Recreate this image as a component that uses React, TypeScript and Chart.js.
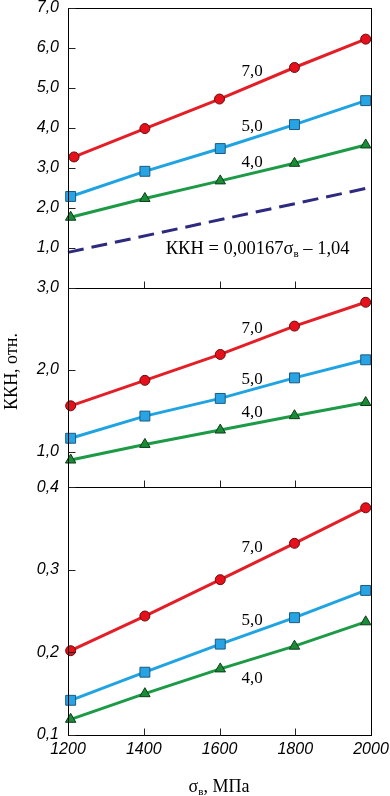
import React, { useEffect, useRef } from "react";
import { Chart, registerables } from "chart.js";

Chart.register(...registerables);

// x values (σв, MPa)
const xValues = [1207, 1403, 1602, 1798, 1986];
const topRedX = [1216, 1403, 1600, 1798, 1986];
const xTickValues = [1200, 1400, 1600, 1800, 2000];

// Top panel
const topRed = [3.27, 3.98, 4.72, 5.51, 6.22];
const topBlue = [2.28, 2.91, 3.48, 4.08, 4.68];
const topGreen = [1.76, 2.23, 2.67, 3.11, 3.57];
const dashX = [1200, 1986];
const dashY = [0.88, 2.48];

// Middle panel
const midRed = [1.56, 1.87, 2.185, 2.53, 2.82];
const midBlue = [1.165, 1.435, 1.65, 1.9, 2.12];
const midGreen = [0.9, 1.09, 1.265, 1.44, 1.6];

// Bottom panel
const botRed = [0.202, 0.244, 0.288, 0.332, 0.375];
const botBlue = [0.142, 0.176, 0.21, 0.242, 0.275];
const botGreen = [0.119, 0.15, 0.18, 0.2075, 0.237];

// Tick labels
const topTicks = [1, 2, 3, 4, 5, 6, 7];
const midTicks = [1, 2, 3];
const botTicks = [0.1, 0.2, 0.3, 0.4];

const seriesLabels = ["7,0", "5,0", "4,0"];
const equationMain = "ККН = 0,00167σ";
const equationSub = "в";
const equationTail = " – 1,04";
const yTitleMain = "ККН, отн.";
const xTitleSigma = "σ";
const xTitleSub = "в";
const xTitleTail = ", МПа";

const RED = "#e41e26";
const BLUE = "#1fa3e2";
const GREEN = "#1c9a46";

const pts = (xs: number[], ys: number[]) => xs.map((x, i) => ({ x, y: ys[i] }));

const fmt = (v: number) => v.toFixed(1).replace(".", ",");

function mk(
  xs: number[],
  ys: number[],
  axis: string,
  color: string,
  style: string,
  fill: string,
  border: string,
  radius: number
) {
  return {
    data: pts(xs, ys),
    yAxisID: axis,
    borderColor: color,
    backgroundColor: fill,
    borderWidth: 3,
    pointStyle: style,
    pointRadius: radius,
    pointBackgroundColor: fill,
    pointBorderColor: border,
    pointBorderWidth: 1,
    tension: 0,
    clip: false as any,
  };
}

export default function App() {
  const ref = useRef<HTMLCanvasElement | null>(null);

  useEffect(() => {
    document.body.style.margin = "0";
    const canvas = ref.current!;

    const framePlugin = {
      id: "framePlugin",
      afterDraw(chart: any) {
        const ctx = chart.ctx as CanvasRenderingContext2D;
        const xs = chart.scales.x;
        const left = Math.round(chart.chartArea.left) + 0.5;
        const right = Math.round(chart.chartArea.right) + 0.5;
        ctx.save();
        ctx.strokeStyle = "#000";
        ctx.lineWidth = 1;
        const panels: [string, number[]][] = [
          ["yTop", topTicks],
          ["yMid", midTicks],
          ["yBot", botTicks],
        ];
        for (const [id, ticks] of panels) {
          const s = chart.scales[id];
          const top = Math.round(s.top) + 0.5;
          const bottom = Math.round(s.bottom) + 0.5;
          ctx.strokeStyle = "#000";
          ctx.strokeRect(left, top, right - left, bottom - top);
          ctx.strokeStyle = "#222";
          ctx.beginPath();
          for (const t of ticks) {
            const y = Math.round(s.getPixelForValue(t)) + 0.5;
            ctx.moveTo(left, y);
            ctx.lineTo(left + 7, y);
          }
          for (const t of xTickValues.slice(1, -1)) {
            const x = Math.round(xs.getPixelForValue(t)) + 0.5;
            ctx.moveTo(x, bottom);
            ctx.lineTo(x, bottom - 7);
          }
          ctx.stroke();
        }

        // Series labels
        ctx.fillStyle = "#000";
        ctx.font = '17px "Liberation Serif", "Times New Roman", serif';
        ctx.textAlign = "center";
        ctx.textBaseline = "middle";
        const labelPos: [string, number[]][] = [
          ["yTop", [5.42, 4.04, 3.14]],
          ["yMid", [2.5, 1.88, 1.48]],
          ["yBot", [0.3265, 0.238, 0.1685]],
        ];
        const lx = xs.getPixelForValue(1686);
        for (const [id, ys] of labelPos) {
          const s = chart.scales[id];
          ys.forEach((v, i) => {
            ctx.fillText(seriesLabels[i], lx, s.getPixelForValue(v));
          });
        }

        // Equation
        const sTop = chart.scales.yTop;
        const ex = xs.getPixelForValue(1458);
        const ey = sTop.getPixelForValue(0.97);
        ctx.textAlign = "left";
        ctx.font = '18.5px "Liberation Serif", "Times New Roman", serif';
        ctx.fillText(equationMain, ex, ey);
        let w = ctx.measureText(equationMain).width;
        ctx.font = '11px "Liberation Serif", "Times New Roman", serif';
        ctx.fillText(equationSub, ex + w, ey + 5);
        w += ctx.measureText(equationSub).width;
        ctx.font = '18.5px "Liberation Serif", "Times New Roman", serif';
        ctx.fillText(equationTail, ex + w, ey);

        // Y title
        ctx.save();
        ctx.translate(12, (chart.chartArea.top + chart.chartArea.bottom) / 2);
        ctx.rotate(-Math.PI / 2);
        ctx.textAlign = "center";
        ctx.font = '18px "Liberation Serif", "Times New Roman", serif';
        ctx.fillText(yTitleMain, 0, 0);
        ctx.restore();

        // X title
        ctx.font = '18px "Liberation Serif", "Times New Roman", serif';
        const w1 = ctx.measureText(xTitleSigma).width;
        ctx.font = '11px "Liberation Serif", "Times New Roman", serif';
        const w2 = ctx.measureText(xTitleSub).width;
        ctx.font = '18px "Liberation Serif", "Times New Roman", serif';
        const w3 = ctx.measureText(xTitleTail).width;
        const total = w1 + w2 + w3;
        const cx = 219;
        const ty = 787;
        const x0 = cx - total / 2;
        ctx.textAlign = "left";
        ctx.fillText(xTitleSigma, x0, ty);
        ctx.font = '11px "Liberation Serif", "Times New Roman", serif';
        ctx.fillText(xTitleSub, x0 + w1, ty + 5);
        ctx.font = '18px "Liberation Serif", "Times New Roman", serif';
        ctx.fillText(xTitleTail, x0 + w1 + w2, ty);
        ctx.restore();
      },
    };

    const tickFont = { family: '"Liberation Sans", Arial, sans-serif', size: 16, style: "italic" as const, lineHeight: 1 };

    const yAxis = (ticks: number[], min: number, max: number, weight: number) => ({
      type: "linear" as const,
      position: "left" as const,
      stack: "panels",
      stackWeight: weight,
      offset: false,
      min,
      max,
      grid: { display: false, drawTicks: false },
      border: { display: false },
      ticks: {
        font: tickFont,
        color: "#000",
        padding: 9,
        callback: (v: any) => fmt(Number(v)),
      },
      afterBuildTicks: (s: any) => {
        s.ticks = ticks.map((value) => ({ value }));
      },
      afterFit: (s: any) => {
        s.width = 68;
        s.paddingTop = 0;
        s.paddingBottom = 0;
      },
    });

    const chart = new Chart(canvas, {
      type: "line",
      data: {
        datasets: [
          mk(topRedX, topRed, "yTop", RED, "circle", "#e5101c", "#6a0a0a", 5),
          mk(xValues, topBlue, "yTop", BLUE, "rect", "#28a4e4", "#1a5a80", 7),
          mk(xValues, topGreen, "yTop", GREEN, "triangle", "#1a8c38", "#0c3d18", 6),
          {
            data: pts(dashX, dashY),
            yAxisID: "yTop",
            borderColor: "#2e2a80",
            borderWidth: 3,
            borderDash: [16, 8],
            pointRadius: 0,
            tension: 0,
            clip: false as any,
          },
          mk(xValues, midRed, "yMid", RED, "circle", "#e5101c", "#6a0a0a", 5),
          mk(xValues, midBlue, "yMid", BLUE, "rect", "#28a4e4", "#1a5a80", 7),
          mk(xValues, midGreen, "yMid", GREEN, "triangle", "#1a8c38", "#0c3d18", 6),
          mk(xValues, botRed, "yBot", RED, "circle", "#e5101c", "#6a0a0a", 5),
          mk(xValues, botBlue, "yBot", BLUE, "rect", "#28a4e4", "#1a5a80", 7),
          mk(xValues, botGreen, "yBot", GREEN, "triangle", "#1a8c38", "#0c3d18", 6),
        ] as any,
      },
      options: {
        responsive: false,
        animation: false,
        events: [],
        layout: { padding: { top: 6.7, right: 19, bottom: 0, left: 0 } },
        plugins: { legend: { display: false }, tooltip: { enabled: false } },
        scales: {
          x: {
            type: "linear",
            min: 1200,
            max: 2000,
            grid: { display: false, drawTicks: false },
            border: { display: false },
            ticks: {
              font: tickFont,
              color: "#000",
              padding: 7,
              maxRotation: 0,
              callback: (v: any) => String(v),
            },
            afterBuildTicks: (s: any) => {
              s.ticks = xTickValues.map((value) => ({ value }));
            },
            afterFit: (s: any) => {
              s.height = 61;
              s.paddingLeft = 0;
              s.paddingRight = 0;
            },
          },
          yBot: yAxis(botTicks, 0.1, 0.4, 248.3),
          yMid: yAxis(midTicks, 0.57, 3.0, 200),
          yTop: yAxis(topTicks, 0, 7, 280),
        } as any,
      },
      plugins: [framePlugin],
    });

    return () => chart.destroy();
  }, []);

  return (
    <div style={{ width: 390, height: 796, position: "relative", background: "#fff" }}>
      <canvas ref={ref} width={390} height={796} style={{ display: "block" }} />
    </div>
  );
}
